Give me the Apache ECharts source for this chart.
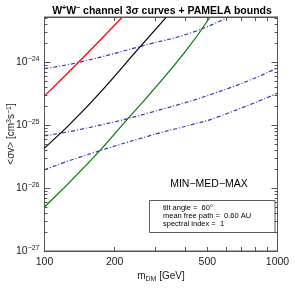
<!DOCTYPE html>
<html><head><meta charset="utf-8">
<script src="https://cdn.jsdelivr.net/npm/echarts@6/dist/echarts.min.js"></script>
<style>html,body{margin:0;padding:0;background:#fff}#c{width:295px;height:295px}</style>
</head><body><div id="c"></div>
<script>
// ---- data ----
const redMass = [100, 142, 215];
const redSigma = [2.9e-25, 1.05e-24, 5.1e-24];
const blackMass = [100, 152, 257, 332];
const blackSigma = [4.3e-26, 1.95e-25, 1.74e-24, 5.1e-24];
const greenMass = [100, 158, 229, 284, 401, 512];
const greenSigma = [5.0e-27, 2.75e-26, 1.29e-25, 3.16e-25, 1.45e-24, 5.1e-24];
const pamTopMass = [100, 142, 284, 421, 611];
const pamTopSigma = [7.9e-25, 1.0e-24, 1.95e-24, 2.88e-24, 5.1e-24];
const pamMidMass = [100, 142, 284, 624, 1000];
const pamMidSigma = [6.8e-26, 8.5e-26, 1.58e-25, 3.9e-25, 8.1e-25];
const pamLowMass = [100, 142, 284, 421, 547, 1000];
const pamLowSigma = [1.95e-26, 3.1e-26, 6.8e-26, 1.0e-25, 1.32e-25, 3.2e-25];

const xLabelValues = [100, 200, 500, 1000];
const xTickValues = [200, 300, 400, 500, 600, 700, 800, 900];
const yMajorValues = [1e-27, 1e-26, 1e-25, 1e-24];
const yMinorValues = [2e-27,3e-27,4e-27,5e-27,6e-27,7e-27,8e-27,9e-27,
  2e-26,3e-26,4e-26,5e-26,6e-26,7e-26,8e-26,9e-26,
  2e-25,3e-25,4e-25,5e-25,6e-25,7e-25,8e-25,9e-25,
  2e-24,3e-24,4e-24,5e-24];
const yMin = 1e-27, yMax = 5.2e-24;

// The y values are tiny (1e-27), below ECharts' rounding precision for log axes,
// so the y axis is a value axis on log10(sigma).
const lg = v => Math.log10(v);
const zip = (a, b) => a.map((v, i) => [v, lg(b[i])]);
const FONT = '"Liberation Sans", Arial, sans-serif';

function supFmt(v) {
  const e = Math.round(v);
  return '10{s|' + (e < 0 ? '\u2212' : '') + Math.abs(e) + '}';
}

const axisCol = '#555';
const lineOn = () => ({ show: true, onZero: false, lineStyle: { color: axisCol, width: 1 } });
const lineOff = () => ({ show: false, onZero: false });
const baseX = () => ({
  type: 'log', min: 100, max: 1000, logBase: 10,
  axisLine: lineOn(), splitLine: { show: false }, minorTick: { show: false },
});
const baseY = () => ({
  type: 'value', min: lg(yMin), max: lg(yMax),
  axisLine: lineOn(), splitLine: { show: false }, minorTick: { show: false },
});

const chart = echarts.init(document.getElementById('c'), null, { renderer: 'canvas' });
const line = (data, color, dash, xi, yi) => ({
  type: 'line', data, showSymbol: false, smooth: 0.5, clip: true,
  xAxisIndex: xi, yAxisIndex: yi,
  lineStyle: { color, width: 1.2, type: dash || 'solid' }, z: dash ? 2 : 3,
});
const blue = '#3434b0', dd = [4, 2, 1, 2];
chart.setOption({
  animation: false,
  title: {
    text: 'W{s|+}W{s|\u2212} channel 3\u03c3 curves + PAMELA bounds',
    left: 157, top: 0, textAlign: 'center',
    textStyle: { fontFamily: FONT, fontSize: 10.5, fontWeight: 'bold', color: '#000',
      rich: { s: { fontSize: 7, fontWeight: 'bold', verticalAlign: 'bottom', padding: [0, 0, 5, 0] } } },
  },
  grid: { left: 44.5, right: 17.5, top: 17, bottom: 44, containLabel: false, outerBoundsMode: 'none',
    show: true, borderColor: axisCol, borderWidth: 1, backgroundColor: 'transparent' },
  xAxis: [
    Object.assign(baseX(), {
      position: 'bottom',
      name: 'm{b|DM} [GeV]', nameLocation: 'middle', nameGap: 19, nameMoveOverlap: false,
      nameTextStyle: { fontFamily: FONT, fontSize: 10, color: '#222',
        rich: { b: { fontSize: 7, verticalAlign: 'top', padding: [6, 0, 0, 0] } } },
      axisLabel: { customValues: xLabelValues, formatter: v => String(Math.round(v)), fontFamily: FONT, fontSize: 10.5, color: '#222', margin: 6 },
      axisTick: { customValues: xTickValues, inside: true, length: 4, lineStyle: { color: axisCol } },
    }),
    Object.assign(baseX(), {
      position: 'top',
      axisLabel: { show: false },
      axisTick: { customValues: xTickValues, inside: true, length: 4, lineStyle: { color: axisCol } },
    }),
  ],
  yAxis: [
    Object.assign(baseY(), {
      position: 'left',
      name: '<\u03c3v> [cm{s|3}s{s|\u22121}]', nameLocation: 'middle', nameGap: 27, nameRotate: 90, nameMoveOverlap: false,
      nameTextStyle: { fontFamily: FONT, fontSize: 10, color: '#222',
        rich: { s: { fontSize: 7, verticalAlign: 'bottom', padding: [0, 0, 5, 0] } } },
      axisLabel: { customValues: yMajorValues.map(lg), formatter: supFmt, fontFamily: FONT, fontSize: 10.5, color: '#222', margin: 5,
        rich: { s: { fontSize: 7, fontFamily: FONT, color: '#222', verticalAlign: 'bottom', padding: [0, 0, 6, 0] } } },
      axisTick: { customValues: yMajorValues.map(lg), inside: true, length: 6, lineStyle: { color: axisCol } },
    }),
    Object.assign(baseY(), {
      position: 'right',
      axisLabel: { show: false },
      axisTick: { customValues: yMajorValues.map(lg), inside: true, length: 6, lineStyle: { color: axisCol } },
    }),
    Object.assign(baseY(), {
      position: 'left', axisLine: lineOff(),
      axisLabel: { show: false },
      axisTick: { customValues: yMinorValues.map(lg), inside: true, length: 3, lineStyle: { color: axisCol } },
    }),
    Object.assign(baseY(), {
      position: 'right', axisLine: lineOff(),
      axisLabel: { show: false },
      axisTick: { customValues: yMinorValues.map(lg), inside: true, length: 3, lineStyle: { color: axisCol } },
    }),
  ],
  series: [
    line(zip(pamTopMass, pamTopSigma), blue, dd, 0, 0),
    line(zip(pamMidMass, pamMidSigma), blue, dd, 1, 1),
    line(zip(pamLowMass, pamLowSigma), blue, dd, 0, 2),
    line(zip(redMass, redSigma), '#ff0000', null, 1, 3),
    line(zip(blackMass, blackSigma), '#000000', null, 0, 0),
    line(zip(greenMass, greenSigma), '#007a00', null, 0, 0),
  ],
  graphic: [
    { type: 'text', x: 209, y: 179, style: { text: 'MIN\u2212MED\u2212MAX', font: '10.5px ' + FONT, fill: '#000', textAlign: 'center' }, z: 10 },
    { type: 'rect', shape: { x: 149.5, y: 200.5, width: 125.5, height: 32 }, style: { fill: '#fff', stroke: '#333', lineWidth: 0.8 }, z: 10 },
    { type: 'text', x: 163, y: 204, style: { text: 'tilt angle =  60\u00b0', font: '7.5px ' + FONT, fill: '#000' }, z: 11 },
    { type: 'text', x: 163, y: 212, style: { text: 'mean free path =  0.60 AU', font: '7.5px ' + FONT, fill: '#000' }, z: 11 },
    { type: 'text', x: 163, y: 220, style: { text: 'spectral index =  1', font: '7.5px ' + FONT, fill: '#000' }, z: 11 },
  ],
});
</script></body></html>
